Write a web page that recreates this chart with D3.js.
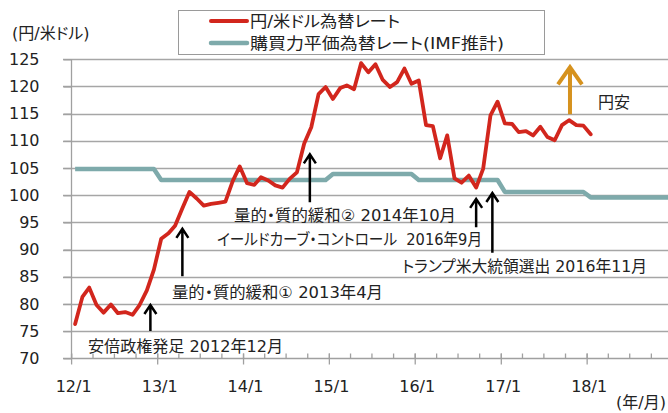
<!DOCTYPE html>
<meta charset="utf-8">
<style>
body, html {
  padding: 0;
  margin: 0;
  background: #fff;
}
svg text {
  font-family: "DejaVu Sans", "Noto Sans CJK JP", sans-serif;
  font-size: 16px;
  fill: #222;
  font-feature-settings: "palt";
  white-space: pre;
}
.grid line {
  stroke: #a6a6a6;
  stroke-width: 1.3px;
}
.axis line, .axis path {
  stroke: #a0a0a0;
  stroke-width: 1.3px;
  fill: none;
}
</style>
<body>
<script src="https://d3js.org/d3.v7.min.js"></script>
<script>

// month-end yen / dollar rate, one array per year
var rate2012 = [76.3, 81.3, 83.0, 79.8, 78.4, 79.9, 78.3, 78.5, 78.0, 79.8, 82.5, 86.3],
    rate2013 = [92.0, 93.0, 94.4, 97.6, 100.6, 99.4, 98.1, 98.4, 98.6, 98.8, 102.6, 105.3],
    rate2014 = [102.2, 101.9, 103.3, 102.7, 101.8, 101.4, 103.0, 104.2, 109.5, 112.5, 118.6, 119.9],
    rate2015 = [117.7, 119.7, 120.2, 119.5, 124.3, 122.6, 124.1, 121.2, 119.9, 120.8, 123.3, 120.5],
    rate2016 = [121.1, 112.9, 112.7, 106.8, 111.0, 103.1, 102.3, 103.6, 101.4, 104.9, 114.7, 117.2],
    rate2017 = [113.2, 113.1, 111.6, 111.8, 111.0, 112.6, 110.7, 110.1, 112.9, 113.8, 112.9, 112.8],
    rate2018 = [111.2]

// IMF purchasing power parity, one value per year
var pppYears = [2012, 2013, 2014, 2015, 2016, 2017, 2018],
    pppValues = [104.8, 102.8, 102.8, 103.9, 102.8, 100.6, 99.6]

var yTicks = [70, 75, 80, 85, 90, 95, 100, 105, 110, 115, 120, 125]
var xTickYears = [2012, 2013, 2014, 2015, 2016, 2017, 2018]

var seriesNames = ["円/米ドル為替レート", "購買力平価為替レート(IMF推計)"]

var eventLabels = ["安倍政権発足 2012年12月", "量的・質的緩和① 2013年4月", "量的・質的緩和② 2014年10月",
                   "イールドカーブ・コントロール  2016年9月", "トランプ米大統領選出 2016年11月"]
var eventDates = ["2012-12-01", "2013-04-16", "2014-10-10", "2016-09-16", "2016-11-24"]
var eventArrowFrom = [75.0, 85.1, 98.7, 94.1, 89.4],
    eventArrowTo = [80.0, 94.0, 107.7, 99.5, 100.6]

// label placement (left x, middle y, width)
var eventLayout = [[88, 346, 195], [172, 292, 211], [234, 215, 222], [217, 239, 265], [402, 266, 245]]

var width = 668,
    height = 413,
    red = "#d2261d",
    teal = "#7eaaab",
    orange = "#d6921e"

var rates = [].concat(rate2012, rate2013, rate2014, rate2015, rate2016, rate2017, rate2018)
var rateData = rates.map(function (v, i) {
    return {date: new Date(2012, i, 16), value: v}
})
var pppData = d3.range(84).map(function (i) {
    var d = new Date(2012, i, 16)
    return {date: d, value: pppValues[pppYears.indexOf(d.getFullYear())]}
})

var x = d3.scaleTime()
    .domain([new Date(2012, 0, 1), new Date(2019, 0, 1)])
    .range([71.6, 673])

var y = d3.scaleLinear()
    .domain([70, 125])
    .range([358.3, 59.3])

var svg = d3.select("body").append("svg")
    .attr("width", width)
    .attr("height", height)

// grid
svg.append("g").attr("class", "grid")
    .selectAll("line")
    .data(yTicks.slice(1))
    .enter().append("line")
    .attr("x1", 63).attr("x2", width)
    .attr("y1", function (d) { return Math.round(y(d)) + 0.5 })
    .attr("y2", function (d) { return Math.round(y(d)) + 0.5 })

// y axis
var yAxis = svg.append("g").attr("class", "axis")
    .attr("transform", "translate(71.5,0)")
    .call(d3.axisLeft(y).tickValues(yTicks).tickSize(8).tickPadding(24))
yAxis.select(".domain").attr("d", "M0," + y(125) + "V" + y(70))
yAxis.selectAll("text").attr("font-size", null).attr("font-family", null)

// x axis: minor quarterly ticks inside, major yearly ticks crossing
var xAxis = svg.append("g").attr("class", "axis")
    .attr("transform", "translate(0," + (Math.round(y(70)) + 0.5) + ")")
xAxis.append("line").attr("x1", 63).attr("x2", width)
xAxis.selectAll(".minor")
    .data(d3.timeMonth.every(3).range(new Date(2012, 0, 1), new Date(2019, 0, 1)))
    .enter().append("line")
    .attr("x1", function (d) { return x(d) }).attr("x2", function (d) { return x(d) })
    .attr("y1", -5).attr("y2", 0)
xAxis.selectAll(".major")
    .data(xTickYears)
    .enter().append("line")
    .attr("x1", function (d) { return x(new Date(d, 0, 1)) })
    .attr("x2", function (d) { return x(new Date(d, 0, 1)) })
    .attr("y1", -5).attr("y2", 6)
xAxis.selectAll("text")
    .data(xTickYears)
    .enter().append("text")
    .attr("x", function (d) { return x(new Date(d, 0, 1)) + 2 })
    .attr("y", 33)
    .attr("text-anchor", "middle")
    .text(function (d) { return d3.timeFormat("%y/%-m")(new Date(d, 0, 1)) })

svg.append("text").attr("x", 12).attr("y", 39).text("(円/米ドル)")
svg.append("text").attr("x", 666).attr("y", 408).attr("text-anchor", "end").text("(年/月)")

// lines
var line = d3.line()
    .x(function (d) { return x(d.date) })
    .y(function (d) { return y(d.value) })

svg.append("path").datum(pppData)
    .attr("d", line)
    .attr("fill", "none")
    .attr("stroke", teal)
    .attr("stroke-width", 4.5)
    .attr("stroke-linejoin", "round")

svg.append("path").datum(rateData)
    .attr("d", line)
    .attr("fill", "none")
    .attr("stroke", red)
    .attr("stroke-width", 3.8)
    .attr("stroke-linejoin", "round")
    .attr("stroke-linecap", "round")

// arrows
function arrow (g, ax, y0, y1, hw, hh, color, sw) {
    g.append("path")
        .attr("d", "M" + ax + "," + y0 + "V" + y1 + "M" + (ax - hw) + "," + (y1 + hh) + "L" + ax + "," + y1 + "L" + (ax + hw) + "," + (y1 + hh))
        .attr("fill", "none")
        .attr("stroke", color)
        .attr("stroke-width", sw)
}

var notes = svg.append("g")
eventLabels.forEach(function (label, i) {
    var ax = x(d3.timeParse("%Y-%m-%d")(eventDates[i]))
    arrow(notes, ax, y(eventArrowFrom[i]), y(eventArrowTo[i]) + 1, 6, 9, "#000", 2.5)
    notes.append("text")
        .attr("x", eventLayout[i][0])
        .attr("y", eventLayout[i][1])
        .attr("dy", "0.35em")
        .attr("textLength", eventLayout[i][2])
        .attr("lengthAdjust", "spacingAndGlyphs")
        .text(label)
})

// yen weakening
arrow(svg, x(new Date(2017, 9, 20)), y(114.9), y(123.9) + 2, 12, 17, orange, 4)
svg.append("text").attr("x", 598).attr("y", 102).attr("dy", "0.35em").text("円安")

// legend
var legend = svg.append("g")
legend.append("rect")
    .attr("x", 178.5).attr("y", 10.5)
    .attr("width", 366).attr("height", 44)
    .attr("fill", "#fff")
    .attr("stroke", "#9a9a9a")
legend.selectAll(".key")
    .data(seriesNames)
    .enter().append("line")
    .attr("x1", 211).attr("x2", 247)
    .attr("y1", function (d, i) { return 21 + i * 22 })
    .attr("y2", function (d, i) { return 21 + i * 22 })
    .attr("stroke", function (d, i) { return i ? teal : red })
    .attr("stroke-width", function (d, i) { return i ? 4.5 : 4 })
    .attr("stroke-linecap", "round")
legend.selectAll("text")
    .data(seriesNames)
    .enter().append("text")
    .attr("x", 250)
    .attr("y", function (d, i) { return 21 + i * 22 })
    .attr("dy", "0.35em")
    .attr("textLength", function (d, i) { return i ? 254 : 150 })
    .attr("lengthAdjust", "spacingAndGlyphs")
    .text(function (d) { return d })

</script>
</body>
